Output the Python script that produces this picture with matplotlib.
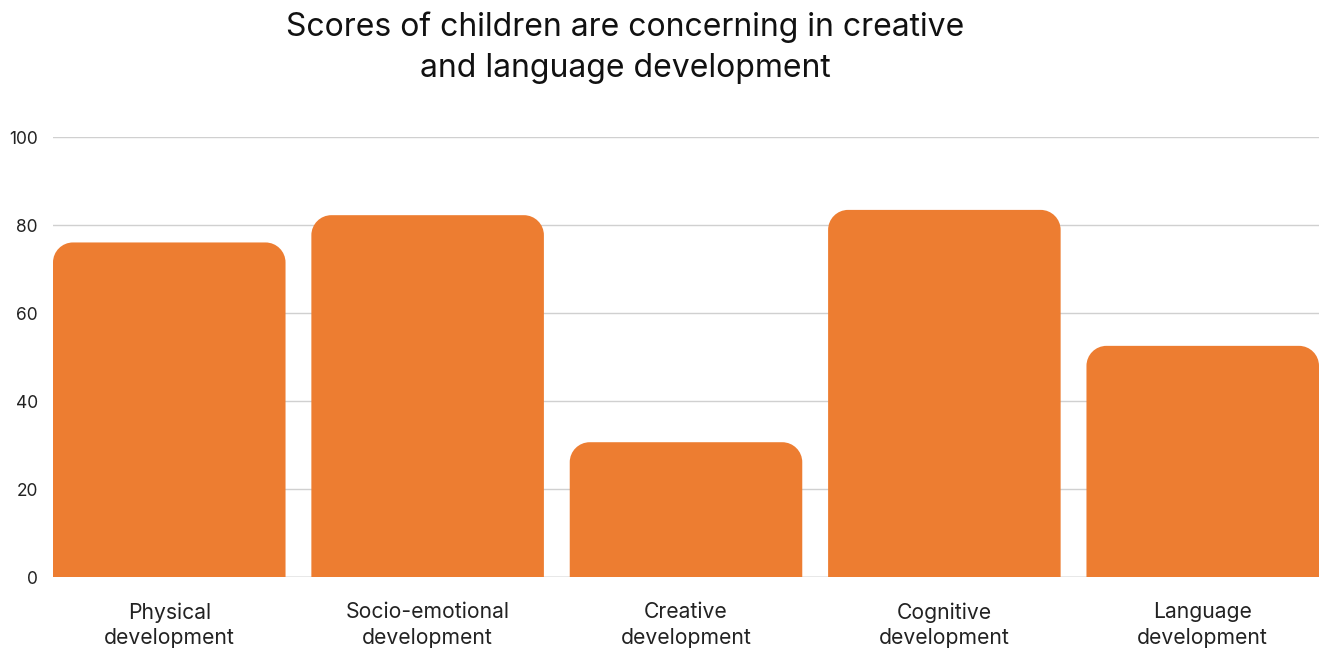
import matplotlib
matplotlib.use("Agg")
import matplotlib.pyplot as plt
from matplotlib.path import Path
from matplotlib.patches import PathPatch

plt.rcParams['font.family'] = ['Inter', 'DejaVu Sans']

title = "Scores of children are concerning in creative\nand language development"
categories = [
    "Physical\ndevelopment",
    "Socio-emotional\ndevelopment",
    "Creative\ndevelopment",
    "Cognitive\ndevelopment",
    "Language\ndevelopment",
]
scores = [76.1, 82.3, 30.7, 83.5, 52.6]
y_ticks = [0, 20, 40, 60, 80, 100]

BAR_COLOR = "#ED7D31"
BAR_WIDTH = 0.9
CORNER_PX = 20

fig = plt.figure(figsize=(13.25, 6.5), dpi=100)
ax = fig.add_axes([53 / 1325, 72.7 / 650, 1266 / 1325, 440 / 650])

ax.set_xlim(-BAR_WIDTH / 2, len(categories) - 1 + BAR_WIDTH / 2)
ax.set_ylim(0, 100)
fig.canvas.draw()

# pixel -> data scale factors so corners are circular on screen
bbox = ax.get_window_extent()
x0, x1 = ax.get_xlim()
y0, y1 = ax.get_ylim()
px_per_x = bbox.width / (x1 - x0)
px_per_y = bbox.height / (y1 - y0)
rx = CORNER_PX / px_per_x
ry = CORNER_PX / px_per_y
k = 0.5523


def top_rounded_bar(xc, h):
    left, right = xc - BAR_WIDTH / 2, xc + BAR_WIDTH / 2
    r_y = min(ry, h / 2)
    verts = [
        (left, 0),
        (left, h - r_y),
        (left, h - r_y + k * r_y), (left + rx - k * rx, h), (left + rx, h),
        (right - rx, h),
        (right - rx + k * rx, h), (right, h - r_y + k * r_y), (right, h - r_y),
        (right, 0),
        (left, 0),
    ]
    codes = [Path.MOVETO, Path.LINETO,
             Path.CURVE4, Path.CURVE4, Path.CURVE4,
             Path.LINETO,
             Path.CURVE4, Path.CURVE4, Path.CURVE4,
             Path.LINETO, Path.CLOSEPOLY]
    return Path(verts, codes)


positions = list(range(len(categories)))
for xc, val in zip(positions, scores):
    ax.add_patch(PathPatch(top_rounded_bar(xc, val), facecolor=BAR_COLOR,
                           edgecolor="none", zorder=3))

ax.set_yticks(y_ticks)
ax.set_yticklabels([str(t) for t in y_ticks])
ax.yaxis.grid(True, color="#d0d0d0", linewidth=1.0, zorder=0)
ax.axhline(0, color="#aaaaaa", linewidth=1.0, zorder=1)
ax.set_xticks(positions)
ax.set_xticklabels(categories, fontsize=15.2, linespacing=1.33, color="#222222")
ax.tick_params(axis="y", length=0, pad=11, labelsize=12.5, labelcolor="#222222")
ax.tick_params(axis="x", length=0, pad=18)
for s in ax.spines.values():
    s.set_visible(False)

fig.text(625 / 1325, 1 - 48 / 650, title, ha="center", va="center",
         fontsize=23, linespacing=1.43, color="#111111")

fig.savefig("out.png", dpi=100)
